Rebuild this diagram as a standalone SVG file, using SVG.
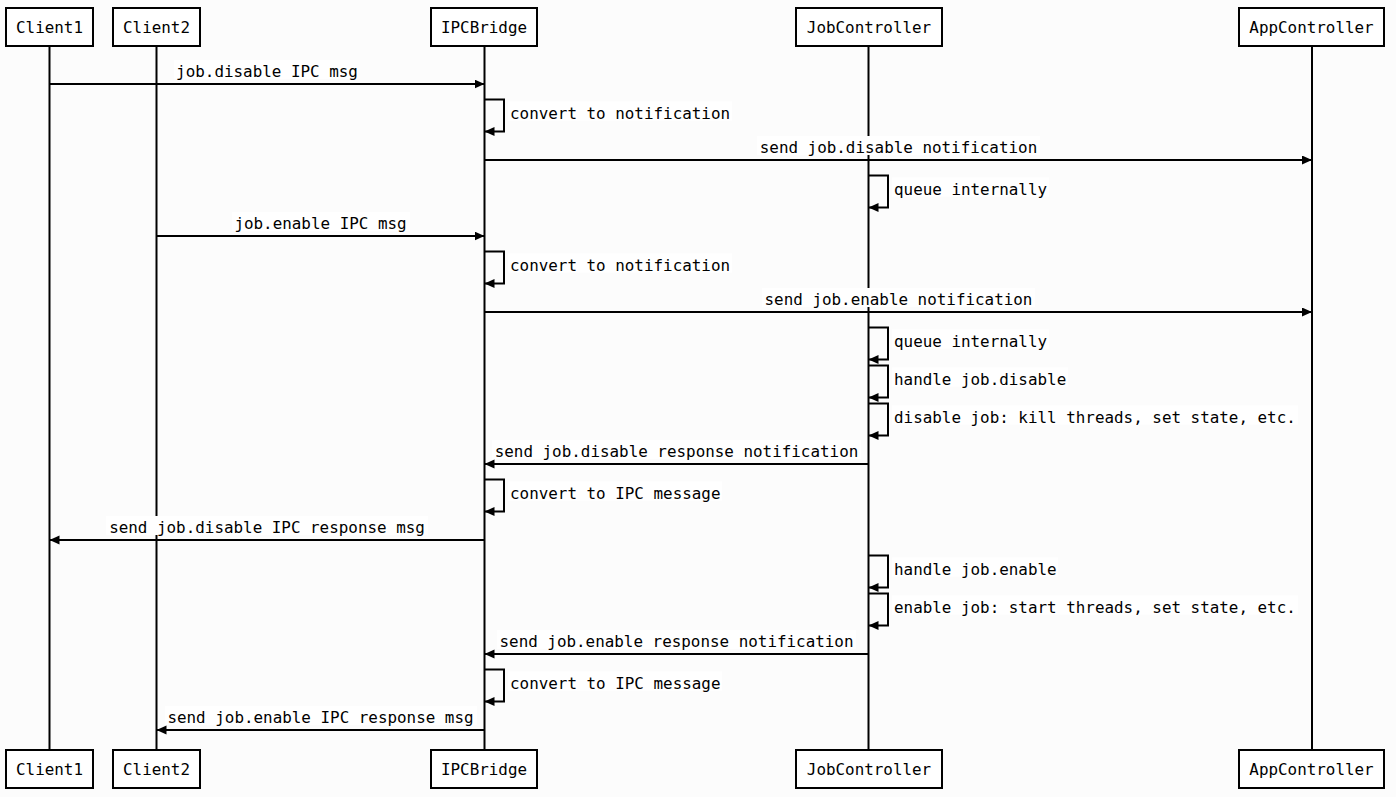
<svg xmlns="http://www.w3.org/2000/svg" width="1396" height="797" viewBox="0 0 1396 797">
<defs>
<style>
.bg{fill:#fcfcfc}
.box{fill:#ffffff;stroke:#000;stroke-width:2}
.life{stroke:#000;stroke-width:2;fill:none}
.msg{stroke:#000;stroke-width:2;fill:none;marker-end:url(#ah)}
.lbg{fill:#ffffff}
text{font-family:"DejaVu Sans Mono","Liberation Mono",monospace;font-size:15.9px;fill:#000}
.c{text-anchor:middle}
</style>
<marker id="ah" markerUnits="userSpaceOnUse" markerWidth="11" markerHeight="10" refX="10" refY="4.5" orient="auto">
<path d="M0,0 L10,4.5 L0,9 z" fill="#000"/>
</marker>
</defs>
<rect class="bg" x="0" y="0" width="1396" height="797"/>

<g id="lifelines">
<line class="life" x1="49.5" y1="46" x2="49.5" y2="750"/>
<line class="life" x1="156.5" y1="46" x2="156.5" y2="750"/>
<line class="life" x1="484.5" y1="46" x2="484.5" y2="750"/>
<line class="life" x1="868.5" y1="46" x2="868.5" y2="750"/>
<line class="life" x1="1312" y1="46" x2="1312" y2="750"/>
</g>

<g id="Client1">
<rect class="box" x="6" y="8" width="87" height="38"/>
<text class="c" x="49.5" y="32.5">Client1</text>
<rect class="box" x="6" y="750" width="87" height="38"/>
<text class="c" x="49.5" y="774.5">Client1</text>
</g>
<g id="Client2">
<rect class="box" x="113" y="8" width="87" height="38"/>
<text class="c" x="156.5" y="32.5">Client2</text>
<rect class="box" x="113" y="750" width="87" height="38"/>
<text class="c" x="156.5" y="774.5">Client2</text>
</g>
<g id="IPCBridge">
<rect class="box" x="431" y="8" width="106" height="38"/>
<text class="c" x="484" y="32.5">IPCBridge</text>
<rect class="box" x="431" y="750" width="106" height="38"/>
<text class="c" x="484" y="774.5">IPCBridge</text>
</g>
<g id="JobController">
<rect class="box" x="796" y="8" width="146" height="38"/>
<text class="c" x="869" y="32.5">JobController</text>
<rect class="box" x="796" y="750" width="146" height="38"/>
<text class="c" x="869" y="774.5">JobController</text>
</g>
<g id="AppController">
<rect class="box" x="1239" y="8" width="145" height="38"/>
<text class="c" x="1311.5" y="32.5">AppController</text>
<rect class="box" x="1239" y="750" width="145" height="38"/>
<text class="c" x="1311.5" y="774.5">AppController</text>
</g>

<g id="connectors">
<rect class="lbg" x="174" y="60" width="186" height="19"/>
<text class="c" x="267" y="77">job.disable IPC msg</text>
<line class="msg" x1="49.5" y1="84" x2="484.5" y2="84"/>

<path class="msg" d="M484.5,99.5 H504 V131.5 H484.5"/>
<rect class="lbg" x="508" y="101.5" width="224" height="19"/>
<text x="510" y="118.5">convert to notification</text>

<rect class="lbg" x="757" y="136" width="283" height="19"/>
<text class="c" x="898.5" y="153">send job.disable notification</text>
<line class="msg" x1="484.5" y1="160" x2="1312" y2="160"/>

<path class="msg" d="M868.5,175.5 H888 V207.5 H868.5"/>
<rect class="lbg" x="892" y="177.5" width="157" height="19"/>
<text x="894" y="194.5">queue internally</text>

<rect class="lbg" x="232" y="212" width="178" height="19"/>
<text class="c" x="320.5" y="229">job.enable IPC msg</text>
<line class="msg" x1="156.5" y1="236" x2="484.5" y2="236"/>

<path class="msg" d="M484.5,251.5 H504 V283.5 H484.5"/>
<rect class="lbg" x="508" y="253.5" width="224" height="19"/>
<text x="510" y="270.5">convert to notification</text>

<rect class="lbg" x="762" y="288" width="273" height="19"/>
<text class="c" x="898.5" y="305">send job.enable notification</text>
<line class="msg" x1="484.5" y1="312" x2="1312" y2="312"/>

<path class="msg" d="M868.5,327.5 H888 V359.5 H868.5"/>
<rect class="lbg" x="892" y="329.5" width="157" height="19"/>
<text x="894" y="346.5">queue internally</text>
<path class="msg" d="M868.5,365.5 H888 V397.5 H868.5"/>
<rect class="lbg" x="892" y="367.5" width="176" height="19"/>
<text x="894" y="384.5">handle job.disable</text>
<path class="msg" d="M868.5,403.5 H888 V435.5 H868.5"/>
<rect class="lbg" x="892" y="405.5" width="406" height="19"/>
<text x="894" y="422.5">disable job: kill threads, set state, etc.</text>

<rect class="lbg" x="492" y="440" width="369" height="19"/>
<text class="c" x="676.5" y="457">send job.disable response notification</text>
<line class="msg" x1="868.5" y1="464" x2="484.5" y2="464"/>

<path class="msg" d="M484.5,479.5 H504 V511.5 H484.5"/>
<rect class="lbg" x="508" y="481.5" width="214" height="19"/>
<text x="510" y="498.5">convert to IPC message</text>

<rect class="lbg" x="106" y="516" width="322" height="19"/>
<text class="c" x="267" y="533">send job.disable IPC response msg</text>
<line class="msg" x1="484.5" y1="540" x2="49.5" y2="540"/>

<path class="msg" d="M868.5,555.5 H888 V587.5 H868.5"/>
<rect class="lbg" x="892" y="557.5" width="166" height="19"/>
<text x="894" y="574.5">handle job.enable</text>
<path class="msg" d="M868.5,593.5 H888 V625.5 H868.5"/>
<rect class="lbg" x="892" y="595.5" width="406" height="19"/>
<text x="894" y="612.5">enable job: start threads, set state, etc.</text>

<rect class="lbg" x="497" y="630" width="359" height="19"/>
<text class="c" x="676.5" y="647">send job.enable response notification</text>
<line class="msg" x1="868.5" y1="654" x2="484.5" y2="654"/>

<path class="msg" d="M484.5,669.5 H504 V701.5 H484.5"/>
<rect class="lbg" x="508" y="671.5" width="214" height="19"/>
<text x="510" y="688.5">convert to IPC message</text>

<rect class="lbg" x="165" y="706" width="312" height="19"/>
<text class="c" x="320.5" y="723">send job.enable IPC response msg</text>
<line class="msg" x1="484.5" y1="730" x2="156.5" y2="730"/>
</g>
</svg>
